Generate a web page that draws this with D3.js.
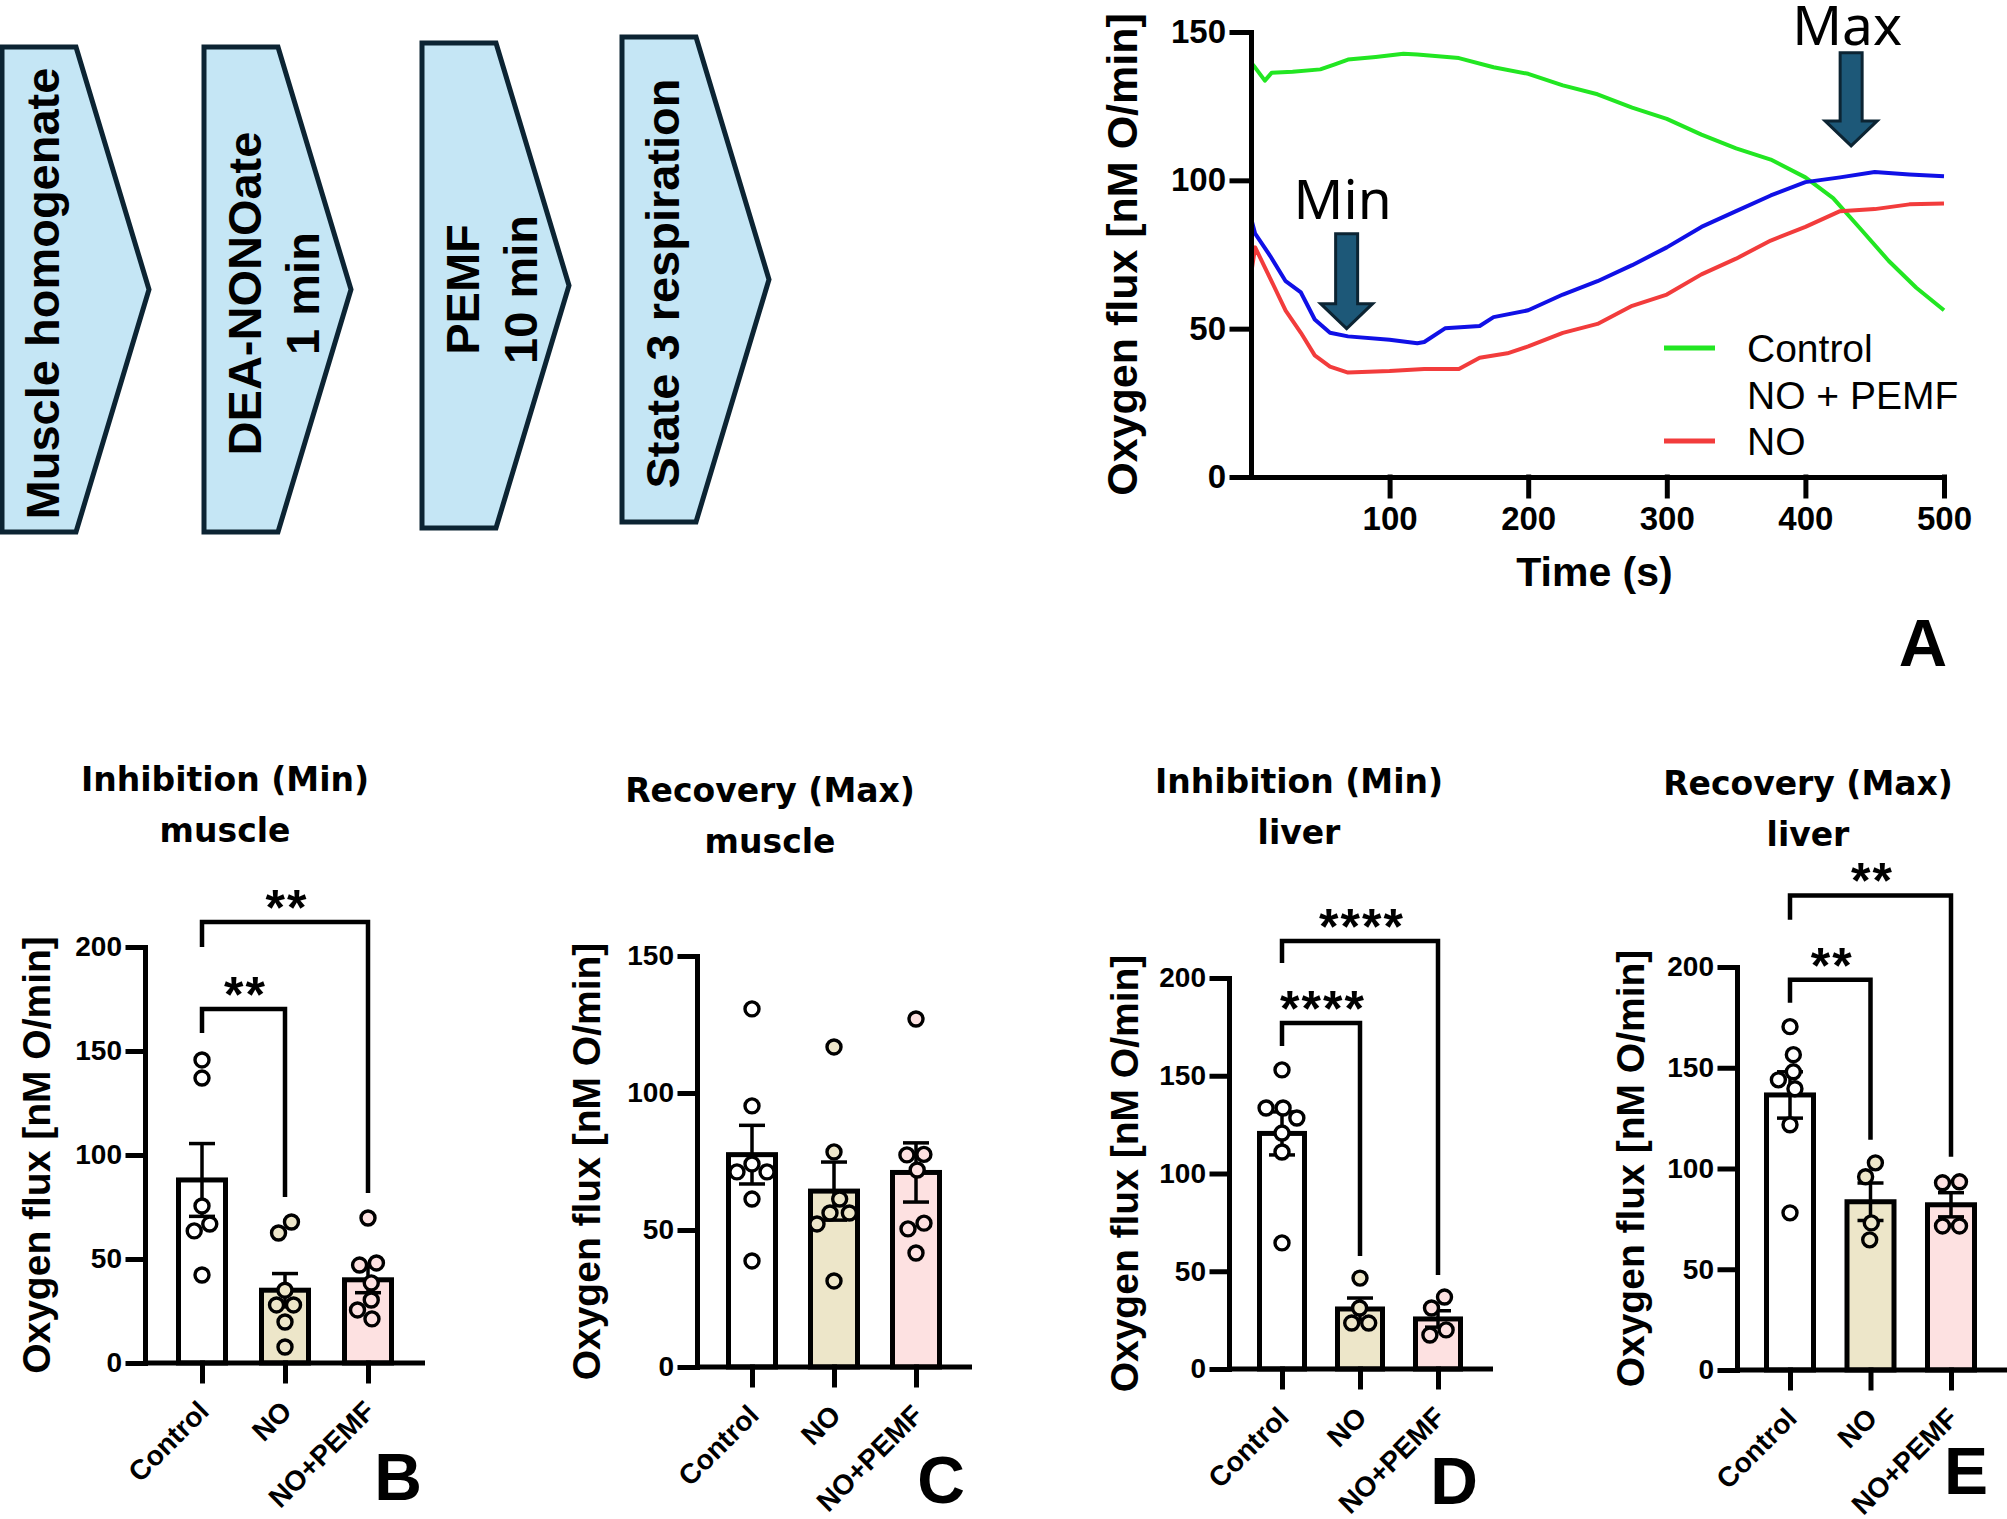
<!DOCTYPE html>
<html>
<head>
<meta charset="utf-8">
<script src="https://cdn.jsdelivr.net/npm/d3@7"></script>
<style>
  html, body { margin: 0; padding: 0; background: #fff; }
  svg { display: block; }
</style>
</head>
<body>
<svg id="fig" width="2007" height="1519"></svg>
<script>
// ---------- data ----------
const steps = [["Muscle homogenate"], ["DEA-NONOate", "1 min"], ["PEMF", "10 min"], ["State 3 respiration"]];

// panel A: oxygen flux traces (time in s, flux in nM O/min)
const ctrlTime = [0, 3, 10, 15, 30, 50, 60, 70, 90, 110, 120, 150, 175, 200, 225, 250, 275, 300, 325, 350, 375, 400, 420, 440, 460, 480, 500];
const ctrlFlux = [139.7, 138, 133.6, 136.3, 136.6, 137.4, 139, 140.7, 141.6, 142.7, 142.4, 141.2, 138.1, 135.9, 132, 129, 124.5, 120.7, 115.4, 110.8, 107, 101, 94, 83.5, 72.9, 63.8, 56.2];
const pemfTime = [0, 3, 14, 25, 36, 46, 57, 70, 100, 120, 125, 140, 165, 175, 200, 225, 250, 275, 300, 325, 350, 375, 400, 425, 450, 475, 500];
const pemfFlux = [87.3, 82, 74.4, 66, 62.2, 53.1, 48.6, 47.4, 46.3, 45.1, 45.5, 50.1, 50.9, 53.9, 56.2, 61.5, 66, 71.4, 77.4, 84.3, 89.6, 94.9, 99.4, 101, 102.8, 102, 101.4];
const noTime = [0, 3, 14, 25, 36, 46, 57, 70, 100, 125, 150, 165, 185, 200, 225, 250, 275, 300, 325, 350, 375, 400, 425, 450, 475, 500];
const noFlux = [68.3, 77.4, 66.8, 56.1, 48.6, 41, 37.2, 35.2, 35.7, 36.4, 36.4, 40.2, 41.7, 44, 48.6, 51.6, 57.7, 61.5, 68.3, 73.6, 79.7, 84.3, 89.6, 90.3, 91.9, 92.2];
const legendNames = ["Control", "NO + PEMF", "NO"];
const markers = [{label: "Min", t: 69, from: 82, to: 50}, {label: "Max", t: 433, from: 143, to: 111.6}];

// panels B-E
const groups = ["Control", "NO", "NO+PEMF"];

const bPoints = [[145.7, 137, 75.5, 66.8, 63.5, 42.3],
                 [67.8, 62.5, 35, 27.9, 27.9, 19.7, 7.7],
                 [69.7, 48.1, 47.1, 38.5, 30.3, 25.5, 21.2]];
const bMeans = [88, 35, 40];
const bSem = [17.5, 8, 6.2];
const bStars = [{to: "NO", y: 170.2, l: 158.7, r: 79.8, label: "**"},
                {to: "NO+PEMF", y: 212, l: 200, r: 81.7, label: "**"}];

const cPoints = [[130.7, 95.3, 74.1, 71.2, 71.2, 61.3, 38.7],
                 [116.8, 78.5, 61.3, 56.2, 56.2, 52.2, 31.4],
                 [127, 77.6, 77.4, 71.9, 52.5, 50.4, 41.6]];
const cMeans = [77.5, 64.2, 71];
const cSem = [10.7, 10.6, 10.8];
const cStars = [];

const dPoints = [[153, 133.5, 133.5, 128.4, 120.7, 111, 64.5],
                 [46.5, 31.2, 23.5, 23.5],
                 [36.8, 31.2, 20, 17.4]];
const dMeans = [120.5, 30.7, 25.6];
const dSem = [11, 5.6, 4.2];
const dStars = [{to: "NO", y: 177, l: 165.2, r: 57.8, label: "****"},
                {to: "NO+PEMF", y: 218.9, l: 207.7, r: 48.1, label: "****"}];

const ePoints = [[170.4, 156.5, 148, 144, 139.6, 121.7, 78],
                 [102.8, 95.9, 73, 64.6],
                 [93.4, 92.9, 71.5, 71.5]];
const eMeans = [136.5, 83.5, 82];
const eSem = [11.5, 9.3, 6];
const eStars = [{to: "NO", y: 193.7, l: 182.3, r: 114.3, label: "**"},
                {to: "NO+PEMF", y: 235.5, l: 223.5, r: 105.8, label: "**"}];

// ---------- styling ----------
const SANS = "'Liberation Sans', Arial, sans-serif";
const lineColors = ["#22e622", "#1010e6", "#f23c3c"];
const barFills = ["#ffffff", "#ede6c9", "#fde1e1"];

const svg = d3.select("#fig");
svg.append("rect").attr("width", 2007).attr("height", 1519).attr("fill", "#fff");

// ---------- flow chart ----------
const chev = {left: [2, 204, 422, 622], top: [47, 47, 43, 37], h: 485, body: 74, point: 73};
steps.forEach((lines, i) => {
  const x0 = chev.left[i], y0 = chev.top[i], y1 = y0 + chev.h, ym = (y0 + y1) / 2;
  const pts = [[x0, y0], [x0 + chev.body, y0], [x0 + chev.body + chev.point, ym], [x0 + chev.body, y1], [x0, y1]];
  svg.append("path")
    .attr("d", "M" + pts.join("L") + "Z")
    .attr("fill", "#c5e6f5").attr("stroke", "#0c2433").attr("stroke-width", 5)
    .attr("stroke-linejoin", "miter");
  lines.forEach((s, j) => {
    const bx = x0 + 57 + j * 58, by = ym + 4;
    svg.append("text")
      .attr("transform", `translate(${bx},${by}) rotate(-90)`)
      .attr("text-anchor", "middle")
      .attr("font-family", SANS).attr("font-weight", "bold").attr("font-size", 47)
      .text(s);
  });
});

// ---------- panel A: traces ----------
const xA = d3.scaleLinear().domain([0, 500]).range([1251, 1944]);
const yA = d3.scaleLinear().domain([0, 150]).range([477, 32]);

const series = [
  {t: ctrlTime, v: ctrlFlux, c: lineColors[0]},
  {t: pemfTime, v: pemfFlux, c: lineColors[1]},
  {t: noTime, v: noFlux, c: lineColors[2]}
];
const line = d3.line().x(d => xA(d[0])).y(d => yA(d[1]));
series.forEach(s => {
  svg.append("path")
    .datum(s.t.map((t, i) => [t, s.v[i]]))
    .attr("d", line)
    .attr("fill", "none").attr("stroke", s.c).attr("stroke-width", 4)
    .attr("stroke-linejoin", "round");
});

function styleAxis(g, size) {
  g.attr("font-family", SANS).attr("font-weight", "bold").attr("font-size", size);
  g.selectAll("path, line").attr("stroke", "#000").attr("stroke-width", 5).attr("stroke-linecap", "square");
  g.selectAll("text").attr("fill", "#000");
}

svg.append("g").attr("transform", `translate(${xA(0)},0)`)
  .call(d3.axisLeft(yA).tickValues([0, 50, 100, 150]).tickSize(19).tickSizeOuter(0).tickPadding(6))
  .call(g => styleAxis(g, 33));
svg.append("g").attr("transform", `translate(0,${yA(0)})`)
  .call(d3.axisBottom(xA).tickValues([100, 200, 300, 400, 500]).tickSize(19).tickSizeOuter(0).tickPadding(11))
  .call(g => styleAxis(g, 33));

svg.append("text")
  .attr("transform", `translate(${xA(0) - 114},${(yA(0) + yA(150)) / 2}) rotate(-90)`)
  .attr("text-anchor", "middle").attr("font-family", SANS).attr("font-weight", "bold").attr("font-size", 43)
  .text("Oxygen flux [nM O/min]");
svg.append("text")
  .attr("x", (xA(0) + xA(500)) / 2 - 3).attr("y", 586)
  .attr("text-anchor", "middle").attr("font-family", SANS).attr("font-weight", "bold").attr("font-size", 41)
  .text("Time (s)");

// Min / Max arrows
markers.forEach(m => {
  const cx = xA(m.t), yTop = yA(m.from), yTip = yA(m.to);
  const sw = 11, hw = 26, hl = 25;
  const p = [[cx - sw, yTop], [cx + sw, yTop], [cx + sw, yTip - hl], [cx + hw, yTip - hl], [cx, yTip],
             [cx - hw, yTip - hl], [cx - sw, yTip - hl]];
  svg.append("path").attr("d", "M" + p.join("L") + "Z")
    .attr("fill", "#1d5878").attr("stroke", "#0c2433").attr("stroke-width", 3).attr("stroke-linejoin", "miter");
  svg.append("text").attr("x", cx - 4).attr("y", Math.max(yTop - 15, 45))
    .attr("text-anchor", "middle").attr("font-family", "'Noto Sans', sans-serif").attr("font-size", 55)
    .text(m.label);
});

// legend
legendNames.forEach((name, i) => {
  const yc = 348 + i * 46.5;
  if (name !== "NO + PEMF") {
    svg.append("line").attr("x1", 1664).attr("x2", 1715).attr("y1", yc).attr("y2", yc)
      .attr("stroke", lineColors[i]).attr("stroke-width", 5);
  }
  svg.append("text").attr("x", 1747).attr("y", yc + 14)
    .attr("font-family", SANS).attr("font-size", 39).text(name);
});

svg.append("text").attr("x", 1923).attr("y", 666).attr("text-anchor", "middle")
  .attr("font-family", SANS).attr("font-weight", "bold").attr("font-size", 67).text("A");

// ---------- bar panels ----------
function swarm(values, y, d) {
  const placed = [];
  values.slice().sort((a, b) => b - a).forEach(v => {
    const py = y(v);
    const hits = placed.filter(p => Math.abs(p.py - py) < d);
    const cands = [0];
    hits.forEach(p => {
      const w = Math.sqrt(d * d - (p.py - py) ** 2);
      cands.push(p.dx - w, p.dx + w);
    });
    cands.sort((a, b) => Math.abs(a) - Math.abs(b) || a - b);
    const dx = cands.find(c => hits.every(p => Math.hypot(p.dx - c, p.py - py) >= d - 1e-6));
    placed.push({v, py, dx});
  });
  // centre each touching cluster on the bar
  const seen = new Set();
  placed.forEach((p, i) => {
    if (seen.has(i)) return;
    const cl = [i];
    seen.add(i);
    for (let k = 0; k < cl.length; k++) {
      placed.forEach((q, j) => {
        if (!seen.has(j) && Math.hypot(placed[cl[k]].dx - q.dx, placed[cl[k]].py - q.py) < d + 1) {
          seen.add(j); cl.push(j);
        }
      });
    }
    const m = d3.mean(cl, j => placed[j].dx);
    cl.forEach(j => placed[j].dx -= m);
  });
  return placed;
}

function barPanel(cfg, points, means, sems, stars) {
  const g = svg.append("g");
  const y = d3.scaleLinear().domain([0, cfg.yMax]).range([cfg.base, cfg.top]);
  const x = d3.scalePoint().domain(groups).range([cfg.axisX + cfg.first, cfg.axisX + cfg.first + 2 * cfg.step]);

  // title
  cfg.title.forEach((t, i) => {
    g.append("text").attr("x", cfg.titleX).attr("y", cfg.titleY + i * 51)
      .attr("text-anchor", "middle").attr("font-family", "'DejaVu Sans', sans-serif")
      .attr("font-weight", "bold").attr("font-size", 33).text(t);
  });

  // bars
  g.selectAll("rect.bar").data(groups).join("rect").attr("class", "bar")
    .attr("x", d => x(d) - cfg.barW / 2)
    .attr("y", (d, i) => y(means[i]))
    .attr("width", cfg.barW)
    .attr("height", (d, i) => cfg.base - y(means[i]))
    .attr("fill", (d, i) => barFills[i]).attr("stroke", "#000").attr("stroke-width", 5);

  // error bars (mean +/- SEM)
  groups.forEach((grp, i) => {
    const cx = x(grp);
    const hi = y(means[i] + sems[i]), lo = y(means[i] - sems[i]);
    g.append("line").attr("x1", cx).attr("x2", cx).attr("y1", hi).attr("y2", lo)
      .attr("stroke", "#000").attr("stroke-width", 3.5);
    [hi, lo].forEach(yy => g.append("line").attr("x1", cx - 13).attr("x2", cx + 13).attr("y1", yy).attr("y2", yy)
      .attr("stroke", "#000").attr("stroke-width", 3.5));
  });

  // axes
  g.append("g").attr("transform", `translate(${cfg.axisX},0)`)
    .call(d3.axisLeft(y).tickValues(d3.range(0, cfg.yMax + 1, 50)).tickSize(17).tickSizeOuter(0).tickPadding(6))
    .call(ax => styleAxis(ax, 28));
  g.append("line").attr("x1", cfg.axisX).attr("x2", cfg.xEnd).attr("y1", cfg.base).attr("y2", cfg.base)
    .attr("stroke", "#000").attr("stroke-width", 5);
  g.append("g").attr("transform", `translate(0,${cfg.base})`)
    .call(d3.axisBottom(x).tickSize(18).tickSizeOuter(0))
    .call(ax => {
      styleAxis(ax, 28);
      ax.select(".domain").remove();
      ax.selectAll("text").attr("x", 8).attr("y", 50).attr("dy", null)
        .attr("text-anchor", "end").attr("transform", "rotate(-45 8 50)");
    });

  g.append("text")
    .attr("transform", `translate(${cfg.axisX - cfg.titleGap},${(cfg.base + cfg.top) / 2}) rotate(-90)`)
    .attr("text-anchor", "middle").attr("font-family", SANS).attr("font-weight", "bold").attr("font-size", 39)
    .text("Oxygen flux [nM O/min]");

  // dots
  points.forEach((vals, i) => {
    const cx = x(groups[i]);
    g.selectAll(null).data(swarm(vals, y, 17)).join("circle")
      .attr("cx", p => cx + p.dx).attr("cy", p => p.py).attr("r", 7)
      .attr("fill", barFills[i]).attr("stroke", "#000").attr("stroke-width", 3.4);
  });

  // significance brackets
  stars.forEach(s => {
    const x1 = x("Control"), x2 = x(s.to), yb = y(s.y);
    g.append("path")
      .attr("d", `M${x1},${y(s.l)}V${yb}H${x2}V${y(s.r)}`)
      .attr("fill", "none").attr("stroke", "#000").attr("stroke-width", 4.5).attr("stroke-linejoin", "miter");
    g.append("text").attr("x", (x1 + x2) / 2 + 2).attr("y", yb + 3)
      .attr("text-anchor", "middle").attr("font-family", SANS).attr("font-weight", "bold")
      .attr("font-size", 50).attr("letter-spacing", 2).text(s.label);
  });

  svg.append("text").attr("x", cfg.letter[0]).attr("y", cfg.letter[1]).attr("text-anchor", "middle")
    .attr("font-family", SANS).attr("font-weight", "bold").attr("font-size", 66).text(cfg.id);
}

barPanel({id: "B", title: ["Inhibition (Min)", "muscle"], titleX: 225, titleY: 791,
          axisX: 145, base: 1363, top: 947, yMax: 200, first: 57, step: 83, barW: 47, xEnd: 425,
          titleGap: 95, letter: [398, 1500]}, bPoints, bMeans, bSem, bStars);
barPanel({id: "C", title: ["Recovery (Max)", "muscle"], titleX: 770, titleY: 802,
          axisX: 697, base: 1367, top: 956, yMax: 150, first: 55, step: 82, barW: 47, xEnd: 972,
          titleGap: 97, letter: [941, 1503]}, cPoints, cMeans, cSem, cStars);
barPanel({id: "D", title: ["Inhibition (Min)", "liver"], titleX: 1299, titleY: 793,
          axisX: 1229, base: 1369, top: 978, yMax: 200, first: 53, step: 78, barW: 45, xEnd: 1493,
          titleGap: 91, letter: [1454, 1504]}, dPoints, dMeans, dSem, dStars);
barPanel({id: "E", title: ["Recovery (Max)", "liver"], titleX: 1808, titleY: 795,
          axisX: 1737, base: 1370, top: 967, yMax: 200, first: 53, step: 80.5, barW: 47, xEnd: 2010,
          titleGap: 93, letter: [1966, 1494]}, ePoints, eMeans, eSem, eStars);
</script>
</body>
</html>
